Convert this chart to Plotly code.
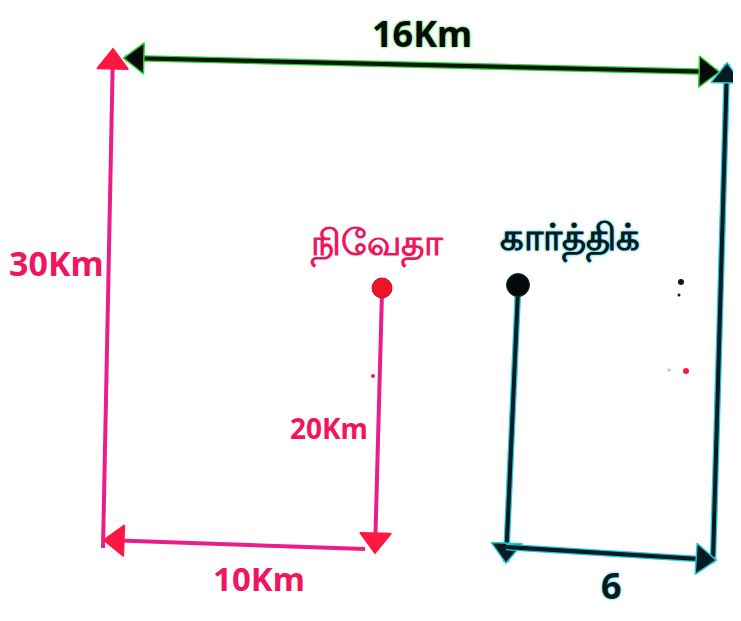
import plotly.graph_objects as go

# ---- content (labels / names) ----
distance_labels = ["16Km", "30Km", "20Km", "10Km", "6"]
person_names = ["நிவேதா", "கார்த்திக்"]

# ---- diagram geometry (window pixel frame, y downwards) ----
seg_names  = ["left30", "top16", "right30", "bottom10", "niveda20", "karthik_down", "bottom6"]
seg_x0     = [103, 125, 713, 365, 382, 518, 506]
seg_y0     = [548,  58, 560, 549, 292, 290, 547]
seg_x1     = [113, 718, 727, 105, 375, 506, 715]
seg_y1     = [ 50,  72,  64, 540, 552, 562, 560]
seg_heads  = ["end", "both", "end", "end", "end", "end", "end"]
seg_line   = ["#ea1e86", "#0c120c", "#061a22", "#ea1e86", "#ea1e86", "#061a22", "#061a22"]
seg_halo   = [None, "#2ad42a", "#22c8d8", None, None, "#22c8d8", "#22c8d8"]
seg_headc  = ["#ff1744", "#0a0a0a", "#061a22", "#ff1744", "#ff1744", "#061a22", "#061a22"]

label_x = [422, 56, 329, 259, 611]
label_y = [33, 263, 428, 578, 585]
label_size = [36, 34, 28, 33, 36]
label_color = ["#0a0a0a", "#f0165e", "#f0165e", "#f0165e", "#061a22"]
label_shadow = ["0 0 3px #2ad42a", "none", "none", "none", "0 0 3px #22c8d8"]

name_x = [377, 570]
name_y = [242, 236]
name_size = [36, 37]
name_color = ["#f0165e", "#061a22"]
name_shadow = ["none", "0 0 3px #22c8d8"]

dot_x = [382, 518]
dot_y = [288, 285]
dot_color = ["#ee1426", "#040808"]

speck_x = [681, 679, 686, 669, 373]
speck_y = [282, 295, 371, 370, 376]
speck_s = [6, 3, 6, 3, 4]
speck_c = ["#061a22", "#061a22", "#ff1744", "#ffa0b8", "#f0165e"]

WIN_W, WIN_H = 741, 621
PAGE_MARGIN = 8
HEAD = 27

fig = go.Figure()

for i in range(len(seg_names)):
    xs = [seg_x0[i], seg_x1[i]]
    ys = [seg_y0[i], seg_y1[i]]
    if seg_halo[i]:
        fig.add_trace(go.Scatter(x=xs, y=ys, mode="lines", opacity=1,
                                 line=dict(color=seg_halo[i], width=6.5),
                                 hoverinfo="skip", showlegend=False))
    fig.add_trace(go.Scatter(x=xs, y=ys, mode="lines", opacity=1,
                             line=dict(color=seg_line[i], width=4),
                             hoverinfo="skip", showlegend=False))
    ends = []
    if seg_heads[i] in ("end", "both"):
        ends.append((xs, ys))
    if seg_heads[i] in ("start", "both"):
        ends.append((xs[::-1], ys[::-1]))
    for ex, ey in ends:
        dx, dy = ex[1] - ex[0], ey[1] - ey[0]
        L = (dx * dx + dy * dy) ** 0.5
        ux, uy = dx / L, dy / L
        cx, cy = ex[1] - ux * HEAD * 0.45, ey[1] - uy * HEAD * 0.45
        fig.add_trace(go.Scatter(
            x=[ex[0], cx], y=[ey[0], cy], mode="markers", opacity=1,
            marker=dict(symbol="triangle-up", size=[0, HEAD], angleref="previous",
                        color=seg_headc[i], opacity=1,
                        line=dict(color=seg_halo[i] or seg_headc[i], width=1.5)),
            hoverinfo="skip", showlegend=False))

fig.add_trace(go.Scatter(x=dot_x, y=dot_y, mode="markers", opacity=1,
                         marker=dict(size=[20, 23], color=dot_color, opacity=1,
                                     line=dict(color=["#c0102a", "#0a3a40"], width=1)),
                         hoverinfo="skip", showlegend=False))
fig.add_trace(go.Scatter(x=speck_x, y=speck_y, mode="markers", opacity=1,
                         marker=dict(size=speck_s, color=speck_c, opacity=1, line=dict(width=0)),
                         hoverinfo="skip", showlegend=False))

font_main = "Noto Sans, DejaVu Sans, sans-serif"
for t, x, y, s, c, sh in zip(distance_labels, label_x, label_y, label_size, label_color, label_shadow):
    fig.add_annotation(x=x, y=y, text=t, showarrow=False, xref="x", yref="y",
                       font=dict(family=font_main, size=s, color=c, weight="bold", shadow=sh))
for t, x, y, s, c, sh in zip(person_names, name_x, name_y, name_size, name_color, name_shadow):
    fig.add_annotation(x=x, y=y, text=t, showarrow=False, xref="x", yref="y",
                       font=dict(family=font_main, size=s, color=c, weight="bold", shadow=sh))

# the page body has an 8px margin: size the figure so it fits the window
# and map axis ranges so data units equal window pixels
fig.update_layout(
    width=WIN_W - 2 * PAGE_MARGIN, height=WIN_H - 2 * PAGE_MARGIN,
    margin=dict(l=0, r=0, t=0, b=0),
    paper_bgcolor="white", plot_bgcolor="white",
    xaxis=dict(range=[PAGE_MARGIN, WIN_W - PAGE_MARGIN], visible=False, fixedrange=True),
    yaxis=dict(range=[WIN_H - PAGE_MARGIN, PAGE_MARGIN], visible=False, fixedrange=True),
    showlegend=False,
)

fig.write_html("out.html")
